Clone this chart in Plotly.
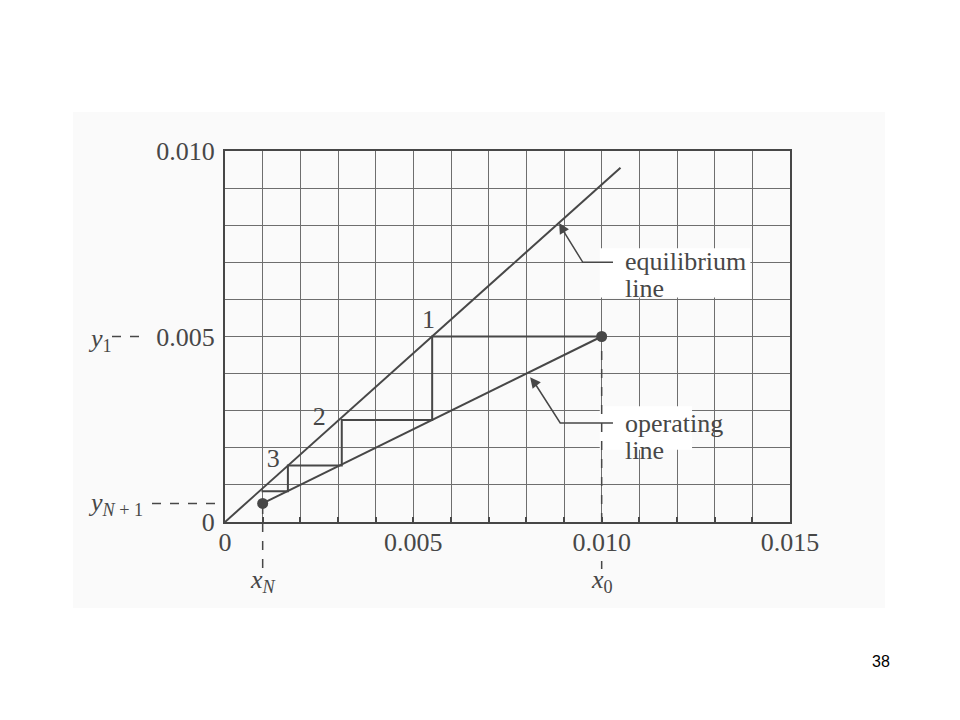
import plotly.graph_objects as go

# ---- data ----
eq_x = [0.0, 0.0105]
eq_y = [0.0, 0.00955]

op_x = [0.001, 0.010]
op_y = [0.0005, 0.005]

step_x = [0.010, 0.0055, 0.0055, 0.0031, 0.0031, 0.00167, 0.00167, 0.00097]
step_y = [0.005, 0.005, 0.00275, 0.00275, 0.00152, 0.00152, 0.00083, 0.00083]

stage_labels = ["1", "2", "3"]
stage_x = [0.0054, 0.0025, 0.00128]
stage_y = [0.0054, 0.00278, 0.00167]

x_tickvals = [0, 0.005, 0.010, 0.015]
x_ticktext = ["0", "0.005", "0.010", "0.015"]
y_tickvals = [0, 0.005, 0.010]
y_ticktext = ["0", "0.005", "0.010"]

x_N, y_N1 = 0.001, 0.0005
x_0, y_1 = 0.010, 0.005

INK = "#474747"
GRID = "#6e6e6e"
SERIF = "Liberation Serif, Times New Roman, serif"

# page body has an 8px margin; plot area must land at x 225-790, y 151-522
OFF = 8
W, H = 960 - OFF, 720 - OFF
L, R, T, B = 225 - OFF, 960 - 790, 151 - OFF, 720 - 522
PW, PH = W - L - R, H - T - B


def px_x(p):
    return (p - 225) / PW


def px_y(p):
    return (522 - p) / PH


fig = go.Figure()

fig.add_trace(go.Scatter(x=step_x, y=step_y, mode="lines",
                         line=dict(color=INK, width=2), hoverinfo="skip"))
fig.add_trace(go.Scatter(x=eq_x, y=eq_y, mode="lines",
                         line=dict(color=INK, width=2), hoverinfo="skip"))
fig.add_trace(go.Scatter(x=op_x, y=op_y, mode="lines+markers",
                         line=dict(color=INK, width=2),
                         marker=dict(size=11, color=INK), cliponaxis=False,
                         hoverinfo="skip"))
fig.add_trace(go.Scatter(x=stage_x, y=stage_y, mode="text", text=stage_labels,
                         textfont=dict(family=SERIF, size=26, color=INK),
                         hoverinfo="skip"))

shapes = []
# white boxes behind the labels (hide gridlines)
shapes.append(dict(type="rect", xref="x", yref="y", x0=0.00995, x1=0.01395,
                   y0=0.00605, y1=0.00738, fillcolor="white", line_width=0,
                   layer="between"))
shapes.append(dict(type="rect", xref="x", yref="y", x0=0.00995, x1=0.01240,
                   y0=0.00195, y1=0.00312, fillcolor="white", line_width=0,
                   layer="between"))
# leader lines
shapes.append(dict(type="path", xref="x", yref="y",
                   path="M 0.0103,0.0070 L 0.0095,0.0070 L 0.00895,0.0079",
                   line=dict(color=INK, width=1.5), layer="above"))
shapes.append(dict(type="path", xref="x", yref="y",
                   path="M 0.0103,0.00267 L 0.0089,0.00267 L 0.00825,0.0037",
                   line=dict(color=INK, width=1.5), layer="above"))
# dashed projections
shapes.append(dict(type="line", xref="x", yref="paper", x0=x_N, x1=x_N,
                   y0=px_y(568), y1=px_y(503), line=dict(color=INK, width=1.5, dash="dash")))
shapes.append(dict(type="line", xref="x", yref="paper", x0=x_0, x1=x_0,
                   y0=0, y1=px_y(336), line=dict(color=INK, width=1.5, dash="dash")))
shapes.append(dict(type="line", xref="x", yref="paper", x0=x_0, x1=x_0,
                   y0=px_y(569), y1=px_y(561), line=dict(color=INK, width=1.5)))
shapes.append(dict(type="line", xref="paper", yref="y", x0=px_x(152), x1=0.0,
                   y0=y_N1, y1=y_N1, line=dict(color=INK, width=1.5, dash="dash")))
shapes.append(dict(type="line", xref="paper", yref="y", x0=px_x(112), x1=px_x(142),
                   y0=y_1, y1=y_1, line=dict(color=INK, width=1.5, dash="dash")))
# scan background
shapes.append(dict(type="rect", xref="paper", yref="paper",
                   x0=px_x(73), x1=px_x(885), y0=px_y(608), y1=px_y(112),
                   fillcolor="#fafafa", line_width=0, layer="below"))

lab_font = dict(family=SERIF, size=26, color=INK)
annotations = [
    dict(x=px_x(623), y=px_y(261), xref="paper", yref="paper", xanchor="left",
         yanchor="middle", text="equilibrium", showarrow=False, font=lab_font),
    dict(x=px_x(623), y=px_y(288), xref="paper", yref="paper", xanchor="left",
         yanchor="middle", text="line", showarrow=False, font=lab_font),
    dict(x=px_x(623), y=px_y(423), xref="paper", yref="paper", xanchor="left",
         yanchor="middle", text="operating", showarrow=False, font=lab_font),
    dict(x=px_x(623), y=px_y(450), xref="paper", yref="paper", xanchor="left",
         yanchor="middle", text="line", showarrow=False, font=lab_font),
    # arrow heads
    dict(x=0.00887, y=0.00806, ax=0.00905, ay=0.00775, xref="x", yref="y",
         axref="x", ayref="y", text="", showarrow=True, arrowhead=2,
         arrowsize=1.4, arrowwidth=1.5, arrowcolor=INK),
    dict(x=0.0081, y=0.0039, ax=0.0083, ay=0.00365, xref="x", yref="y",
         axref="x", ayref="y", text="", showarrow=True, arrowhead=2,
         arrowsize=1.4, arrowwidth=1.5, arrowcolor=INK),
    dict(x=x_N, y=px_y(599), xref="x", yref="paper",
         text="<i>x</i><sub><i>N</i></sub>",
         showarrow=False, font=dict(family=SERIF, size=26, color=INK)),
    dict(x=x_0, y=px_y(599), xref="x", yref="paper", text="<i>x</i><sub>0</sub>",
         showarrow=False, font=dict(family=SERIF, size=26, color=INK)),
    dict(x=px_x(86), y=px_y(340), xref="paper", yref="paper", xanchor="left",
         text="<i>y</i><sub>1</sub>",
         showarrow=False, font=dict(family=SERIF, size=26, color=INK)),
    dict(x=px_x(86), y=px_y(522), xref="paper", yref="paper", xanchor="left",
         text="<i>y</i><sub><i>N</i> + 1</sub>",
         showarrow=False, font=dict(family=SERIF, size=26, color=INK)),
    dict(x=px_x(892), y=px_y(672), xref="paper", yref="paper", text="38",
         showarrow=False,
         font=dict(family="Liberation Sans, Arial", size=16, color="black")),
]

fig.update_layout(
    width=W, height=H,
    margin=dict(l=L, r=R, t=T, b=B),
    paper_bgcolor="white", plot_bgcolor="white",
    showlegend=False,
    shapes=shapes, annotations=annotations,
    font=dict(family=SERIF, size=26, color=INK),
)
fig.update_xaxes(range=[0, 0.015], tickvals=x_tickvals, ticktext=x_ticktext,
                 showgrid=True, gridcolor=GRID, gridwidth=1.2,
                 minor=dict(dtick=0.001, showgrid=True, gridcolor=GRID, gridwidth=1.2,
                            ticks="inside", ticklen=5, tickcolor=INK, tickwidth=2),
                 showline=True, linecolor=INK, linewidth=2, mirror=True,
                 zeroline=False, ticks="inside", ticklen=5, tickcolor=INK, tickwidth=2,
                 ticklabelstandoff=-4,
                 tickfont=dict(family=SERIF, size=26, color=INK), fixedrange=True)
fig.update_yaxes(range=[0, 0.010], tickvals=y_tickvals, ticktext=y_ticktext,
                 showgrid=True, gridcolor=GRID, gridwidth=1.2,
                 minor=dict(dtick=0.001, showgrid=True, gridcolor=GRID, gridwidth=1.2),
                 showline=True, linecolor=INK, linewidth=2, mirror=True,
                 zeroline=False, ticks="", ticklen=0, ticklabelstandoff=3,
                 tickfont=dict(family=SERIF, size=26, color=INK), fixedrange=True)

fig.write_html("out.html")
